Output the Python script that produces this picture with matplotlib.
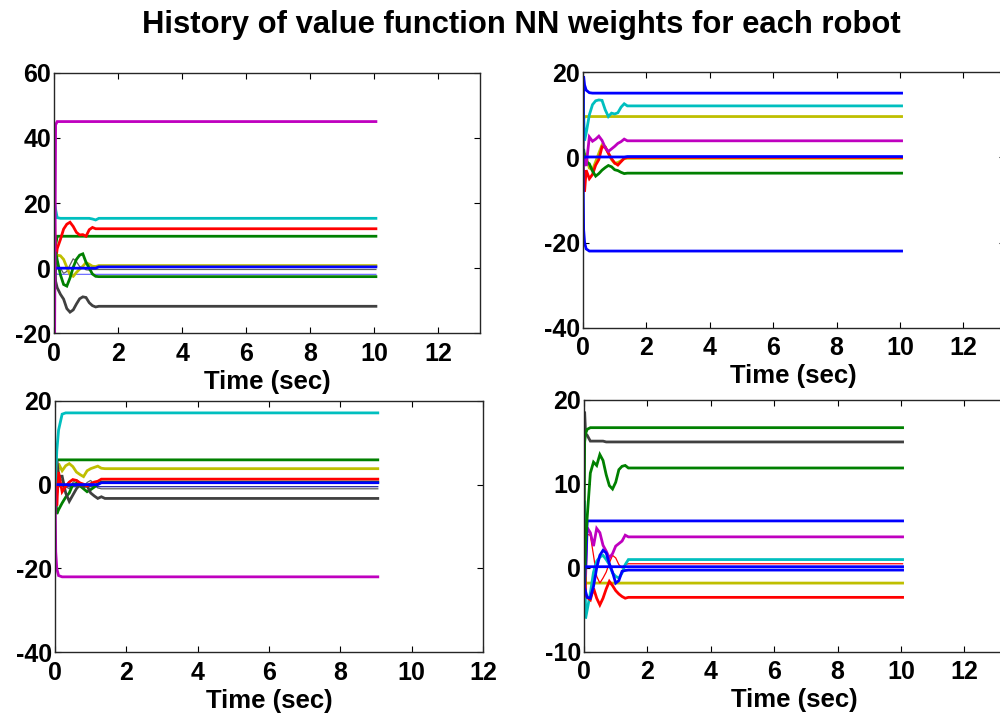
import matplotlib
matplotlib.use("Agg")
import matplotlib.pyplot as plt

plt.rcParams['font.family'] = ['Liberation Sans', 'DejaVu Sans']
plt.rcParams['axes.unicode_minus'] = False

# ---------------- data ----------------
knots = [0, 0.02, 0.05, 0.1, 0.2, 0.3, 0.4, 0.5, 0.6, 0.7, 0.8, 0.9, 1.0, 1.1, 1.2, 1.3, 1.4]
end_times = [10.05, 10.05, 9.05, 10.05]
titles = "History of value function NN weights for each robot"
x_label = "Time (sec)"

# Robot 1
r1_magenta = [-20, -20, 44, 45, 45, 45, 45, 45, 45, 45, 45, 45, 45, 45, 45, 45, 45, 45]
r1_cyan = [0, 20, 18, 15.5, 15.3, 15.3, 15.3, 15.3, 15.3, 15.3, 15.3, 15.3, 15.3, 15.3, 15.1, 14.8, 15.3, 15.3]
r1_red = [0, 15, 2, 6, 8.8, 12, 13.5, 14.1, 12.8, 11, 10.2, 10.3, 9.8, 11.8, 12.5, 12.1, 12.1, 12.1]
r1_green1 = [0, 5, 7, 9.8, 9.8, 9.8, 9.8, 9.8, 9.8, 9.8, 9.8, 9.8, 9.8, 9.8, 9.8, 9.8, 9.8, 9.8]
r1_yellow = [0, 3, 1, 4, 3.8, 2.7, 0.3, -2, -2.5, -1.3, -0.3, 0.6, 1.7, 1.2, 0.6, 0.5, 0.8, 0.8]
r1_blue = [0, 0, 0, 0, 0, 0, 0, 0, 0, 0, 0, 0, 0, 0, 0, 0, 0.4, 0.4]
r1_lblue = [0, 0, -1, -1.9, -1.9, -1.9, -1.9, -1.9, -1.9, -1.9, -1.9, -1.9, -1.9, -1.9, -1.9, -1.9, -1.9, -1.9]
r1_green2 = [0, -3, 5, 2.5, -2, -5, -5.5, -3, 0.3, 2.7, 4, 4.4, 1.8, 0, -1.8, -2.5, -2.6, -2.6]
r1_gray = [-15, 5, -4, -6, -8, -9.5, -12.4, -13.5, -12.8, -11, -9.4, -8.8, -9, -10.6, -11.5, -11.9, -11.7, -11.7]
r1_lgray = [0, 2, -2, 1, 0, -1.6, -1, 1, 2.9, 2, 0.5, 0.3, -0.5, -0.6, -0.4, -0.4, -0.4, -0.4]

# Robot 2
r2_blue1 = [0, 19, 17, 15.8, 15.2, 15.1, 15.1, 15.1, 15.1, 15.1, 15.1, 15.1, 15.1, 15.1, 15.1, 15.1, 15.1, 15.1]
r2_cyan = [15, 10, 4, 5.7, 10, 12.4, 13.3, 13.5, 13.4, 11.2, 9.6, 10.4, 10.2, 10.5, 11.8, 12.6, 12.1, 12.1]
r2_yellow1 = [0, 9, 9.6, 9.6, 9.6, 9.6, 9.6, 9.6, 9.6, 9.6, 9.6, 9.6, 9.6, 9.6, 9.6, 9.6, 9.6, 9.6]
r2_magenta = [0, 0, -1, -2, 4.8, 3.8, 4.3, 5, 4, 2.3, 1.4, 2, 2.6, 3.3, 3.7, 4.3, 3.9, 3.9]
r2_blue2 = [0, 0.1, 0.1, 0.1, 0.1, 0.1, 0.1, 0.1, 0.1, 0.1, 0.1, 0.1, 0.1, 0.1, 0.1, 0.1, 0.2, 0.2]
r2_yellow2 = [0, -2, 1, 0, -2.5, -2.9, -1, 1, 2.9, 2.5, 1, -0.5, -1.4, -1.2, -0.8, -0.3, -0.2, -0.2]
r2_red = [0, -5, -8, -3, -5, -4, -1.8, -0.5, 2.5, 2.4, 1, -0.3, -1.3, -1.8, -1, -0.2, 0, 0]
r2_green = [0, 2, 0, -1, -1.5, -3.2, -4.4, -3.8, -3, -2.4, -1.9, -2.2, -2.9, -3.1, -3.5, -3.8, -3.7, -3.7]
r2_blue3 = [0, -17, -20, -21.5, -22, -22, -22, -22, -22, -22, -22, -22, -22, -22, -22, -22, -22, -22]

# Robot 3
r3_cyan = [0, 2, 8, 13, 16.8, 17.1, 17.1, 17.1, 17.1, 17.1, 17.1, 17.1, 17.1, 17.1, 17.1, 17.1, 17.1, 17.1]
r3_green1 = [0, 6, 5.9, 5.9, 5.9, 5.9, 5.9, 5.9, 5.9, 5.9, 5.9, 5.9, 5.9, 5.9, 5.9, 5.9, 5.9, 5.9]
r3_yellow = [0, 4, -2, 5, 3.3, 4.5, 5, 4.3, 3, 2.4, 1.9, 3.3, 3.8, 4.1, 4.4, 3.9, 3.8, 3.8]
r3_red = [0, 8.5, -5, 3, -1.7, -0.4, 0.6, 1.2, 1, 0.4, 0.1, -0.3, 0.2, 0.6, 0.8, 1.3, 1.3, 1.3]
r3_blue = [0, 0, 0, 0, 0, 0, 0, 0, 0, 0, 0, 0, 0, 0, 0, 0.45, 0.45, 0.45]
r3_navy = [0, 0, -0.5, -0.5, -0.5, -0.5, -0.5, -0.5, -0.5, -0.5, -0.5, -0.5, -0.5, -0.5, -0.5, -0.5, -0.5, -0.5]
r3_green2 = [0, -3, -7, -6, -4.4, -3, -2, 0, 0.3, -0.3, -1, -1.7, -1.2, -0.6, 0.2, 0.6, 0.6, 0.6]
r3_gray = [0, -6, 6, 2, 2, -2, -4, -2.5, -1, 0, -0.5, -0.3, -2, -2.7, -3.3, -2.9, -3.3, -3.3]
r3_lgray = [0, 2, -3, 1.5, 1, -0.5, -1, 0.5, 1.2, 0.5, -0.5, 0.5, 1.0, 0, -0.8, -1, -1, -1]
r3_magenta = [0, -16, -20, -21.7, -22, -22, -22, -22, -22, -22, -22, -22, -22, -22, -22, -22, -22, -22]

# Robot 4
r4_green1 = [0, 15, 16, 16.5, 16.7, 16.7, 16.7, 16.7, 16.7, 16.7, 16.7, 16.7, 16.7, 16.7, 16.7, 16.7, 16.7, 16.7]
r4_gray = [15, 18.6, 16, 15.8, 15.1, 15.1, 15.1, 15.1, 15.1, 15.0, 15.0, 15.0, 15.0, 15.0, 15.0, 15.0, 15.0, 15.0]
r4_green2 = [0, -2, 3, 6, 11.3, 12.6, 12.2, 13.5, 12.8, 11.1, 9.8, 9.4, 10.2, 11.7, 12.1, 12.2, 11.9, 11.9]
r4_blue1 = [0, 0, 0, 5.6, 5.6, 5.6, 5.6, 5.6, 5.6, 5.6, 5.6, 5.6, 5.6, 5.6, 5.6, 5.6, 5.6, 5.6]
r4_magenta = [0, 3, -1, 4.8, 4.2, 2.6, 4.7, 4.2, 2.7, 2.0, 1.2, 1.7, 2.6, 2.9, 3.2, 3.9, 3.7, 3.7]
r4_cyan = [0, 8, -6, -5, -3, -0.5, 0.8, 1.3, 1.5, 1.0, 0.4, -0.6, -1.0, -1.2, -0.6, 0.4, 1.0, 1.0]
r4_red = [0, 3, -3.2, -3.5, -3.8, -2.4, -3.6, -4.4, -3.6, -2.5, -1.6, -2.1, -2.7, -3.1, -3.4, -3.6, -3.5, -3.5]
r4_blue2 = [0, -3, -2.8, -3.5, -3.6, -2.2, 0, 1.5, 2.1, 1.8, 0.5, -0.5, -1.8, -1.5, -0.4, -0.3, -0.25, -0.25]
r4_blue3 = [0, 0.15, 0.15, 0.15, 0.15, 0.15, 0.15, 0.15, 0.15, 0.15, 0.15, 0.15, 0.15, 0.15, 0.15, 0.15, 0.15, 0.15]
r4_redthin = [0, -5, 2, 4, 3.9, 1.5, -1, -1.8, -1.2, -0.5, 0.6, 1.5, 1.2, 0.4, 0, 0.4, 0.5, 0.5]
r4_yellow = [0, 0, -1.8, -1.8, -1.8, -1.8, -1.8, -1.8, -1.8, -1.8, -1.8, -1.8, -1.8, -1.8, -1.8, -1.8, -1.8, -1.8]

# ---------------- styles ----------------
B, G, R, C, M, Y, K = '#0000FF', '#008000', '#FF0000', '#00BFBF', '#BF00BF', '#BFBF00', '#404040'
LB, LG = '#7070FF', '#606060'
THICK, THIN = 2.0, 0.9

robots = [
    [(r1_lgray, LG, THIN), (r1_lblue, LB, THIN), (r1_green1, G, THICK), (r1_red, R, THICK),
     (r1_cyan, C, THICK), (r1_yellow, Y, THICK), (r1_green2, G, THICK), (r1_gray, K, THICK),
     (r1_blue, B, THICK), (r1_magenta, M, THICK)],
    [(r2_yellow1, Y, THICK), (r2_yellow2, Y, THICK), (r2_red, R, THICK), (r2_green, G, THICK),
     (r2_magenta, M, THICK), (r2_cyan, C, THICK), (r2_blue2, B, THICK), (r2_blue1, B, THICK),
     (r2_blue3, B, THICK)],
    [(r3_lgray, LG, THIN), (r3_navy, '#2020A0', THIN), (r3_green1, G, THICK), (r3_yellow, Y, THICK),
     (r3_green2, G, THICK), (r3_gray, K, THICK), (r3_red, R, THICK), (r3_blue, B, THICK),
     (r3_cyan, C, THICK), (r3_magenta, M, THICK)],
    [(r4_yellow, Y, THICK), (r4_redthin, R, THIN), (r4_cyan, C, THICK), (r4_red, R, THICK),
     (r4_magenta, M, THICK), (r4_blue1, B, THICK), (r4_green2, G, THICK), (r4_gray, K, THICK),
     (r4_green1, G, THICK), (r4_blue2, B, THICK), (r4_blue3, B, THICK)],
]

positions = [
    [0.054, 0.5351, 0.426, 0.3635],
    [0.583, 0.5430, 0.4216, 0.3562],
    [0.055, 0.0902, 0.428, 0.3509],
    [0.584, 0.0907, 0.4216, 0.3515],
]
xlims = [(0, 13.3), (0, 13.3), (0, 12), (0, 13.3)]
ylims = [(-20, 60), (-40, 20), (-40, 20), (-10, 20)]
yticks = [[-20, 0, 20, 40, 60], [-40, -20, 0, 20], [-40, -20, 0, 20], [-10, 0, 10, 20]]
xticks = [0, 2, 4, 6, 8, 10, 12]

fig = plt.figure(figsize=(10, 7.17), dpi=100)
for i in range(4):
    ax = fig.add_axes(positions[i])
    t = knots + [end_times[i]]
    for vals, col, lw in robots[i]:
        ax.plot(t, vals, color=col, lw=lw, solid_joinstyle='miter')
    ax.set_xlim(*xlims[i])
    ax.set_ylim(*ylims[i])
    ax.set_xticks(xticks)
    ax.set_yticks(yticks[i])
    ax.tick_params(direction='in', top=True, right=True, length=4, width=0.8,
                   labelsize=18, colors='black')
    ax.tick_params(axis='x', pad=6)
    ax.tick_params(axis='y', pad=2)
    for lab in ax.get_xticklabels() + ax.get_yticklabels():
        lab.set_fontweight('bold')
    for sp in ax.spines.values():
        sp.set_linewidth(1.0)
        sp.set_color('#262626')
    ax.set_xlabel(x_label, fontsize=18.5, fontweight='bold', labelpad=3)

fig.text(0.521, 1 - 25 / 717, titles, ha='center', va='center', fontsize=22.3, fontweight='bold')
fig.savefig('out.png', dpi=100)
